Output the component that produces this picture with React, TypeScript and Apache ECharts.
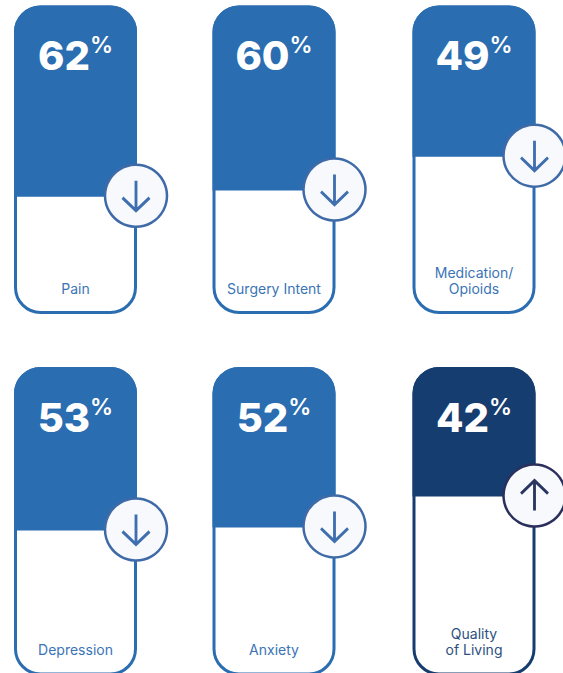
import React, { useEffect, useRef } from "react";
import * as echarts from "echarts";

const categories = ["Pain", "Surgery Intent", "Medication/\nOpioids", "Depression", "Anxiety", "Quality\nof Living"];
const values = [62, 60, 49, 53, 52, 42];
const directions = ["down", "down", "down", "down", "down", "up"];
const lefts = [14, 212.5, 412.5];
const tops = [5.5, 367];

const BLUE = "#2a6db0";
const NAVY = "#163d6f";
const DOWN = "path://M13 0V30M0 17L13 30L26 17";
const UP = "path://M13 30V0M0 13L13 0L26 13";

function buildOption() {
  const grid: any[] = [];
  const xAxis: any[] = [];
  const yAxis: any[] = [];
  const series: any[] = [];
  categories.forEach((name, i) => {
    const up = directions[i] === "up";
    const color = up ? NAVY : BLUE;
    const textColor = up ? "#2c4f80" : "#3a74b5";
    const ring = up ? "#2b2f5c" : "#3f6aa8";
    const arrow = up ? "#2a3560" : "#3f6fae";
    grid.push({ left: lefts[i % 3], top: tops[Math.floor(i / 3)], width: 123, height: 308.5 });
    const xCat = xAxis.length;
    xAxis.push({ type: "category", gridIndex: i, data: [name], show: false });
    const xVal = xAxis.length;
    xAxis.push({ type: "value", gridIndex: i, min: 0, max: 1, show: false });
    yAxis.push({ type: "value", gridIndex: i, min: 0, max: 100, inverse: true, show: false });
    series.push({
      type: "bar", xAxisIndex: xCat, yAxisIndex: i, barWidth: "100%", barGap: "-100%", z: 1,
      data: [100], silent: true,
      itemStyle: { color: "#ffffff", borderColor: color, borderWidth: 3, borderRadius: 25 },
      label: {
        show: true, position: "insideBottom", distance: 18, formatter: name,
        color: textColor, fontFamily: "Inter", fontSize: 14, lineHeight: 16,
      },
    });
    series.push({
      type: "bar", xAxisIndex: xCat, yAxisIndex: i, barWidth: "100%", barGap: "-100%", z: 2,
      data: [values[i]], silent: true,
      itemStyle: { color, borderColor: color, borderWidth: 3, borderRadius: [25, 25, 0, 0] },
      label: {
        show: true, position: "insideTop", distance: 28,
        formatter: `{n|${values[i]}}{p|%}`,
        rich: {
          n: { color: "#fff", fontFamily: "Inter", fontWeight: 800, fontSize: 40, lineHeight: 44 },
          p: { color: "#fff", fontFamily: "Inter", fontWeight: 600, fontSize: 23, lineHeight: 44, verticalAlign: "top", padding: [0, 0, 8, 0] },
        },
      },
    });
    series.push({
      type: "scatter", xAxisIndex: xVal, yAxisIndex: i, z: 3, silent: true, clip: false,
      data: [[1, values[i]]], symbol: "circle", symbolSize: 62, symbolOffset: [-1, -1],
      itemStyle: { color: "#f7f9fc", borderColor: ring, borderWidth: 2.5, opacity: 1 },
    });
    series.push({
      type: "scatter", xAxisIndex: xVal, yAxisIndex: i, z: 4, silent: true, clip: false,
      data: [[1, values[i]]], symbol: up ? UP : DOWN, symbolSize: [27, 30], symbolOffset: [-1, -1], symbolKeepAspect: false,
      itemStyle: { color: "none", borderColor: arrow, borderWidth: 3, opacity: 1 },
    });
  });
  return { animation: false, backgroundColor: "#ffffff", grid, xAxis, yAxis, series };
}

export default function App() {
  const ref = useRef<HTMLDivElement>(null);
  useEffect(() => {
    document.body.style.margin = "0";
    const chart = echarts.init(ref.current!, undefined, { renderer: "svg" });
    chart.setOption(buildOption());
    return () => chart.dispose();
  }, []);
  return (
    <div style={{ width: 563, height: 673, overflow: "hidden" }}>
      <div ref={ref} style={{ width: 563, height: 690 }} />
    </div>
  );
}
